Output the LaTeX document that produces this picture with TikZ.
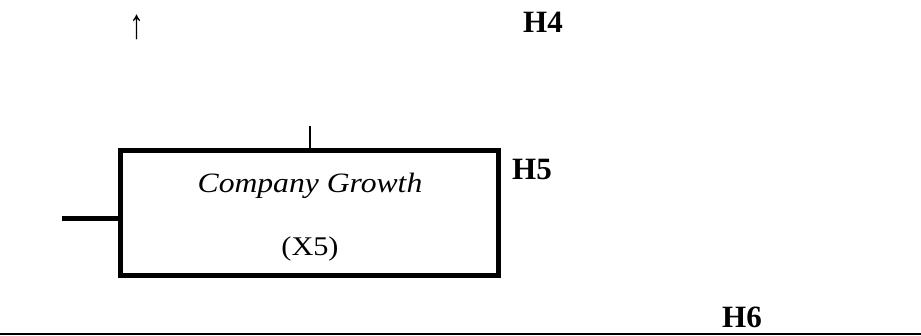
\documentclass[tikz,border=0pt]{standalone}
\usepackage{fontspec}
\setmainfont{Liberation Serif}
\begin{document}
\begin{tikzpicture}[x=1pt,y=-1pt,
  label/.style={inner sep=0pt, font=\fontsize{28}{32}\selectfont},
  hyp/.style={inner sep=0pt, anchor=base west, font=\fontsize{31}{34}\selectfont\bfseries},
  varbox/.style={draw, line width=5pt, inner sep=0pt, minimum width=378pt, minimum height=125.5pt}]
  \useasboundingbox (0,0) rectangle (921,335);

  % construct box
  \node[varbox] (box) at (309.5,212.75) {};
  \node[label, anchor=base, font=\fontsize{28}{32}\selectfont\itshape] (title) at (310,192) {\scalebox{1.13}[1]{Company Growth}};
  \node[label, anchor=base, font=\fontsize{27}{30}\selectfont] (code) at (310,255) {\scalebox{1.12}[1]{(X5)}};

  % hypothesis labels
  \node[hyp] (h4) at (523,32) {H4};
  \node[hyp] (h5) at (512,179) {H5};
  \node[hyp] (h6) at (722,327) {H6};

  % arrow glyph
  \node[label, anchor=base, font=\fontsize{30}{32}\selectfont] (up) at (137,38) {\scalebox{1}[1.4]{↑}};

  % connector stubs
  \coordinate (tick) at (310,126);
  \draw[line width=2pt] (tick) -- (tick |- box.north);
  \coordinate (stub) at (62,218.5);
  \draw[line width=5pt] (stub) -- (stub -| box.west);

  % bottom rule
  \coordinate (ruleL) at (0,333.5);
  \coordinate (ruleR) at (921,333.5);
  \draw[line width=2pt] (ruleL) -- (ruleR);
\end{tikzpicture}
\end{document}
